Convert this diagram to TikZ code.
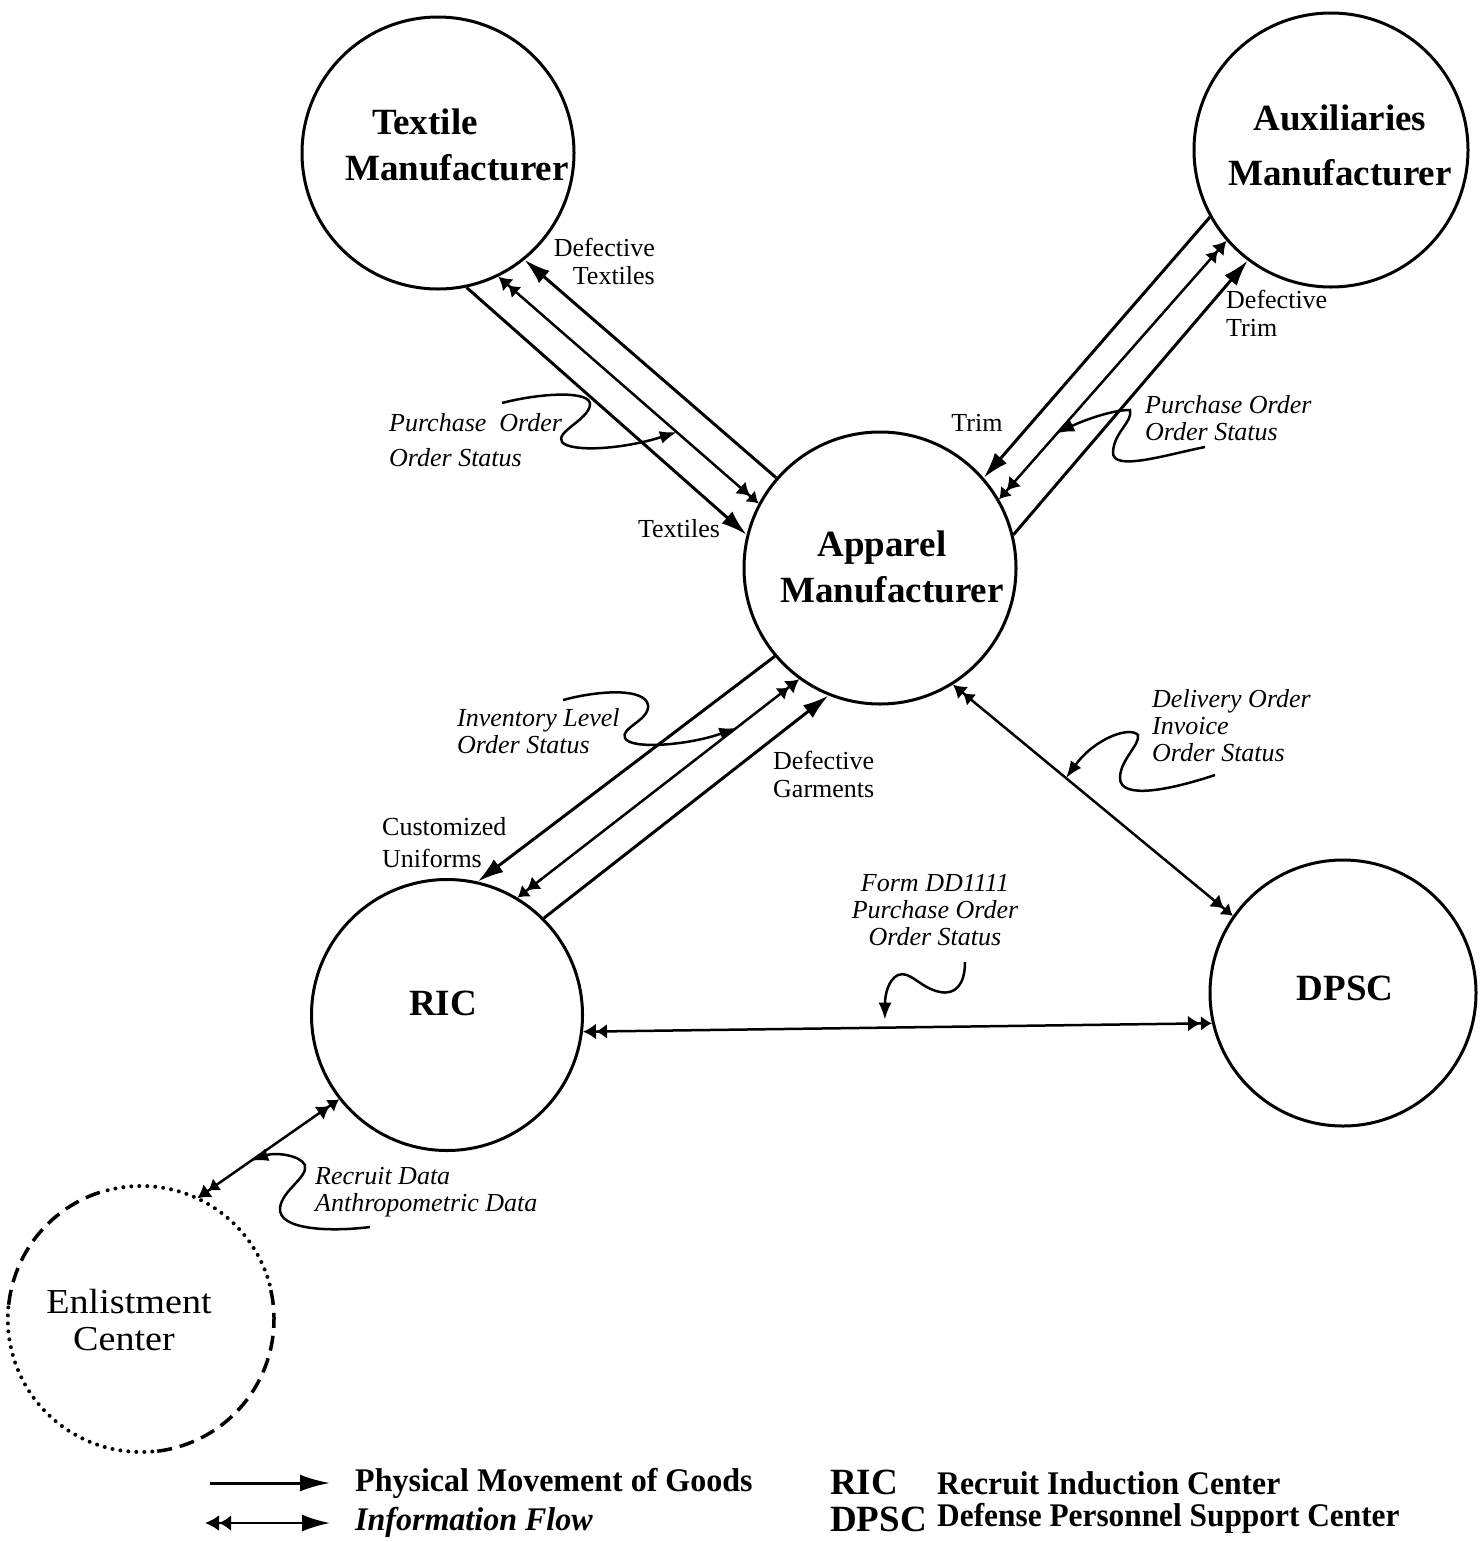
\documentclass[tikz,border=0pt]{standalone}
\usepackage{fontspec}
\usepackage{graphicx}
\setmainfont{Liberation Serif}
\usetikzlibrary{arrows.meta,calc}

\begin{document}
\begin{tikzpicture}[x=1pt,y=-1pt,
  hub/.style={circle, draw, line width=3pt, inner sep=0pt},
  ttl/.style={align=center, inner sep=0pt, font=\fontsize{37}{46}\selectfont\bfseries},
  goods/.style={line width=3pt, -{Latex[length=26pt,width=16pt]}},
  info/.style={line width=2.5pt,
    {Latex[length=13pt,width=16pt]Latex[length=11pt,width=15pt]}-{Latex[length=13pt,width=16pt]Latex[length=11pt,width=15pt]}},
  callout/.style={line width=2.5pt, -{Latex[length=17pt,width=13pt]}},
  lbl/.style={inner sep=0pt, align=left, font=\fontsize{26}{28}\selectfont},
  ilbl/.style={inner sep=0pt, align=left, font=\fontsize{26}{27}\selectfont\itshape},
  dotline/.style={line width=4pt, line cap=round, dash pattern=on 0pt off 8pt},
  dashline/.style={line width=3.5pt, dash pattern=on 15pt off 8pt},
  legend/.style={anchor=west, inner sep=0pt, font=\fontsize{33}{33}\selectfont\bfseries},
]
\useasboundingbox (0,0) rectangle (1480,1542);
\fill[white] (0,0) rectangle (1480,1542);

% participants
\node[hub, minimum size=272pt] (tex)  at (438,153)  {};
\node[hub, minimum size=274pt] (aux)  at (1331,150) {};
\node[hub, minimum size=272pt] (app)  at (880,568)  {};
\node[hub, minimum size=271pt] (ric)  at (447,1015) {};
\node[hub, minimum size=266pt] (dpsc) at (1343,993) {};
\node[circle, minimum size=266pt, inner sep=0pt] (enl) at (141,1319) {};

% names inside the circles
\node[ttl] (texT) at ([shift={(19,-8)}]tex.center) {Textile\hspace*{64pt}\\Manufacturer};
\node[ttl, font=\fontsize{37}{55}\selectfont\bfseries] (auxT) at ([shift={(9,-5)}]aux.center) {Auxiliaries\\Manufacturer};
\node[ttl] (appT) at ([shift={(12,-1)}]app.center) {Apparel\hspace*{20pt}\\Manufacturer};
\node[ttl] (ricT) at ([shift={(-4,-12)}]ric.center) {RIC};
\node[ttl] (dpscT) at ([shift={(2,-5)}]dpsc.center) {DPSC};
\node[ttl, font=\fontsize{35}{37}\selectfont] (enlT) at ([shift={(-12,1)}]enl.center)
  {\scalebox{1.09}[1]{Enlistment}\\\scalebox{1.09}[1]{Center}\hspace*{10pt}};

% outline of the enlistment center: dotted and dashed stretches
\draw[dotline]  (enl.15)  arc[start angle=15,  end angle=108, radius=133pt];
\draw[dashline] (enl.108) arc[start angle=108, end angle=175, radius=133pt];
\draw[dotline]  (enl.175) arc[start angle=175, end angle=277, radius=133pt];
\draw[dashline] (enl.277) arc[start angle=277, end angle=375, radius=133pt];

% textile manufacturer <-> apparel manufacturer
\draw[goods] (app.139) -- (tex.-51);
\draw[info]  (tex.-64) -- (app.152);
\draw[goods] (tex.-78) -- (app.166);

% auxiliaries manufacturer <-> apparel manufacturer
\draw[goods] (aux.-151) -- (app.41);
\draw[info]  (aux.-139) -- (app.30);
\draw[goods] (app.14) -- (aux.-127);

% apparel manufacturer <-> RIC
\draw[goods] (app.-140) -- (ric.77);
\draw[info]  (app.-126) -- (ric.59);
\draw[goods] (ric.45) -- (app.-112);

% information links
\draw[info] (app.-58) -- (dpsc.145);
\draw[info] (ric.-7) -- (dpsc.193);
\draw[info] (enl.65) -- (ric.218);

% flow labels
\node[lbl, anchor=east, align=right] (lDefTex) at (655,261) {Defective\\Textiles};
\node[lbl] (lTex) at (679,529) {Textiles};
\node[lbl] (lTrim) at (977,423) {Trim};
\node[lbl, anchor=west] (lDefTrim) at (1226,313) {Defective\\Trim};
\node[lbl, anchor=west, font=\fontsize{26}{32}\selectfont] (lCust) at (382,843) {Customized\\Uniforms};
\node[lbl, anchor=west] (lDefGar) at (773,774) {Defective\\Garments};

% information labels
\node[ilbl, anchor=west, font=\fontsize{26}{35}\selectfont\itshape] (iTex) at (389,440) {Purchase~ Order\\Order Status};
\node[ilbl, anchor=west] (iAux) at (1145,418) {Purchase Order\\Order Status};
\node[ilbl, anchor=west] (iInv) at (457,731) {Inventory Level\\Order Status};
\node[ilbl, anchor=west] (iDel) at (1152,726) {Delivery Order\\Invoice\\Order Status};
\node[ilbl, align=center] (iForm) at (935,910) {Form DD1111\\Purchase Order\\Order Status};
\node[ilbl, anchor=west] (iRec) at (315,1192) {Recruit Data\\Anthropometric Data};

% callout curves from the labels to their links
\coordinate (cTex) at (502,403);
\draw[callout] (cTex) .. controls (540,393) and (592,390) .. (590,405)
  .. controls (588,420) and (555,432) .. (562,442)
  .. controls (570,452) and (620,450) .. ($(tex.-64)!0.686!(app.152)$);

\coordinate (cAux) at (1205,447);
\draw[callout] (cAux) .. controls (1165,455) and (1112,472) .. (1113,452)
  .. controls (1114,432) and (1133,422) .. (1130,410)
  .. controls (1110,410) and (1080,422) .. ($(aux.-139)!0.744!(app.30)$);

\coordinate (cInv) at (563,700);
\draw[callout] (cInv) .. controls (600,690) and (645,688) .. (648,705)
  .. controls (650,720) and (620,728) .. (625,738)
  .. controls (630,750) and (690,745) .. ($(app.-126)!0.223!(ric.59)$);

\coordinate (cDel) at (1215,775);
\draw[callout] (cDel) .. controls (1170,790) and (1120,800) .. (1120,778)
  .. controls (1120,760) and (1140,745) .. (1138,735)
  .. controls (1130,726) and (1095,738) .. ($(app.-58)!0.404!(dpsc.145)$);

\coordinate (cForm) at (965,962);
\draw[callout] (cForm) .. controls (965,985) and (955,995) .. (940,992)
  .. controls (920,988) and (910,970) .. (898,975)
  .. controls (888,980) and (885,995) .. ($(ric.-7)!0.48!(dpsc.193)+(0,-8)$);

\coordinate (cRec) at (370,1227);
\draw[callout] (cRec) .. controls (330,1232) and (278,1230) .. (280,1208)
  .. controls (282,1190) and (308,1178) .. (305,1165)
  .. controls (300,1155) and (275,1152) .. ($(ric.218)!0.62!(enl.65)$);

% key
\coordinate (kGa) at (210,1483);
\coordinate (kGb) at (330,1483);
\coordinate (kIa) at (205,1523);
\coordinate (kIb) at (330,1523);
\draw[line width=3pt, -{Latex[length=30pt,width=17pt]}] (kGa) -- (kGb);
\draw[line width=2.5pt, {Latex[length=14pt,width=16pt]Latex[length=12pt,width=16pt]}-{Latex[length=28pt,width=17pt]}] (kIa) -- (kIb);
\node[legend] (kG) at (355,1483) {\scalebox{0.97}[1]{Physical Movement of Goods}};
\node[legend] (kI) at (355,1522) {\scalebox{0.97}[1]{\itshape Information Flow}};
\node[legend, font=\fontsize{37}{37}\selectfont\bfseries] (kR) at (830,1482) {RIC};
\node[legend, font=\fontsize{37}{37}\selectfont\bfseries] (kD) at (830,1519) {DPSC};
\node[legend] (kRt) at (937,1483) {\scalebox{0.96}[1]{Recruit Induction Center}};
\node[legend] (kDt) at (937,1518) {\scalebox{0.95}[1]{Defense Personnel Support Center}};
\end{tikzpicture}
\end{document}
